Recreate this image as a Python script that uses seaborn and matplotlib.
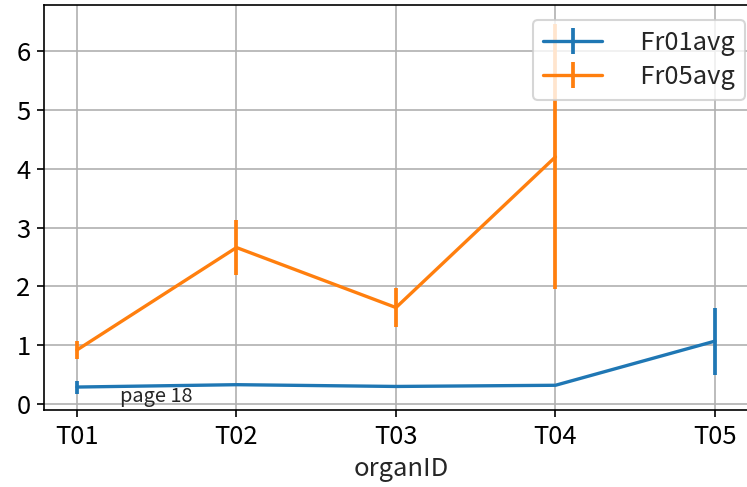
import matplotlib
matplotlib.use("Agg")
import matplotlib.pyplot as plt
import seaborn as sns
import pandas as pd

organs = ["T01", "T02", "T03", "T04", "T05"]
fr01_avg = [0.29, 0.33, 0.30, 0.32, 1.07]
fr01_err = [0.11, 0.02, 0.03, 0.02, 0.57]
fr05_avg = [0.92, 2.66, 1.64, 4.20]
fr05_err = [0.15, 0.46, 0.33, 2.25]

sns.set_style("ticks")
plt.rcParams['font.family'] = ['Noto Sans CJK SC', 'DejaVu Sans']
plt.rcParams['font.size'] = 12.3

df1 = pd.DataFrame({"organID": organs, "Fr01avg": fr01_avg})
df5 = pd.DataFrame({"organID": organs[:4], "Fr05avg": fr05_avg})

fig = plt.figure(figsize=(747/150, 487/150), dpi=150)
ax = fig.add_axes([44/747, 1-410/487, (758-44)/747, (410-5)/487])
x1 = list(range(len(df1)))
x5 = list(range(len(df5)))
ax.errorbar(x1, df1["Fr01avg"], yerr=fr01_err, color="#1f77b4", lw=1.6, elinewidth=1.8, label="   Fr01avg")
ax.errorbar(x5, df5["Fr05avg"], yerr=fr05_err, color="#ff7f0e", lw=1.6, elinewidth=1.8, label="   Fr05avg")
ax.set_xticks(x1)
ax.set_xticklabels(organs)
ax.set_xlim(-0.207, 4.27)
ax.set_ylim(-0.1, 6.78)
ax.set_xlabel("organID", labelpad=3)
ax.grid(True, color="#b0b0b0", lw=0.8)
for s in ax.spines.values():
    s.set_color("black")
ax.tick_params(colors="black", direction="out", length=3.5, pad=3)
ax.legend(loc="upper right", bbox_to_anchor=(745/747, 1-20/487),
          bbox_transform=fig.transFigure, borderaxespad=0,
          labelspacing=0.3, handlelength=2.3)
fig.text(120/747, 1-402/487, "page 18", fontsize=9.6)
fig.savefig("out.png", dpi=150)
